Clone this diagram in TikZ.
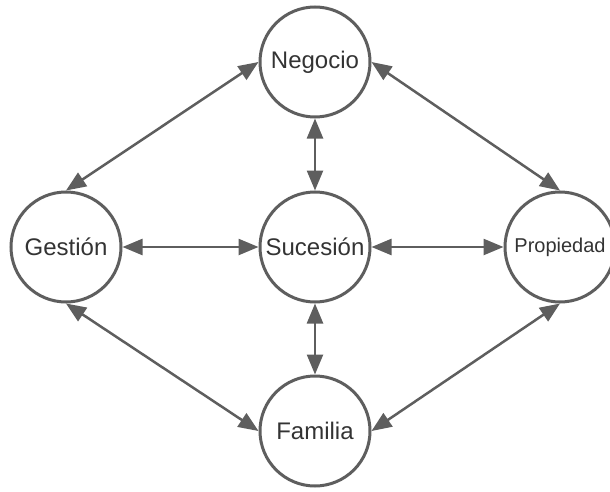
\documentclass[tikz,border=0pt]{standalone}
\usepackage{fontspec}
\setmainfont{Liberation Sans}
\usetikzlibrary{arrows.meta}
\definecolor{linegray}{HTML}{5E5E5E}
\definecolor{textgray}{HTML}{333333}
\begin{document}
\begin{tikzpicture}[x=1pt, y=1pt,
	area/.style={circle, draw=linegray, line width=3pt, minimum size=110pt, inner sep=0pt, text=textgray, font=\fontsize{24}{28}\selectfont},
	link/.style={{Triangle[length=20pt,width=16pt]}-{Triangle[length=20pt,width=16pt]}, line width=2.5pt, draw=linegray}]
	\useasboundingbox (0,0) rectangle (610,491);
	% Circles
	\node[area] (negocio) at (315,429) {Negocio};
	\node[area] (gestion) at (66,244) {Gestión};
	\node[area] (sucesion) at (315,244) {Sucesión};
	\node[area, font=\fontsize{20}{24}\selectfont] (propiedad) at (560,244) {Propiedad};
	\node[area] (familia) at (315,60) {Familia};
	% Links
	\foreach \a/\b in {gestion.north/negocio.west, negocio.east/propiedad.north,
		gestion.south/familia.west, familia.east/propiedad.south,
		negocio/sucesion, sucesion/familia, gestion/sucesion, sucesion/propiedad}
		\draw [link] (\a) -- (\b);
\end{tikzpicture}
\end{document}
